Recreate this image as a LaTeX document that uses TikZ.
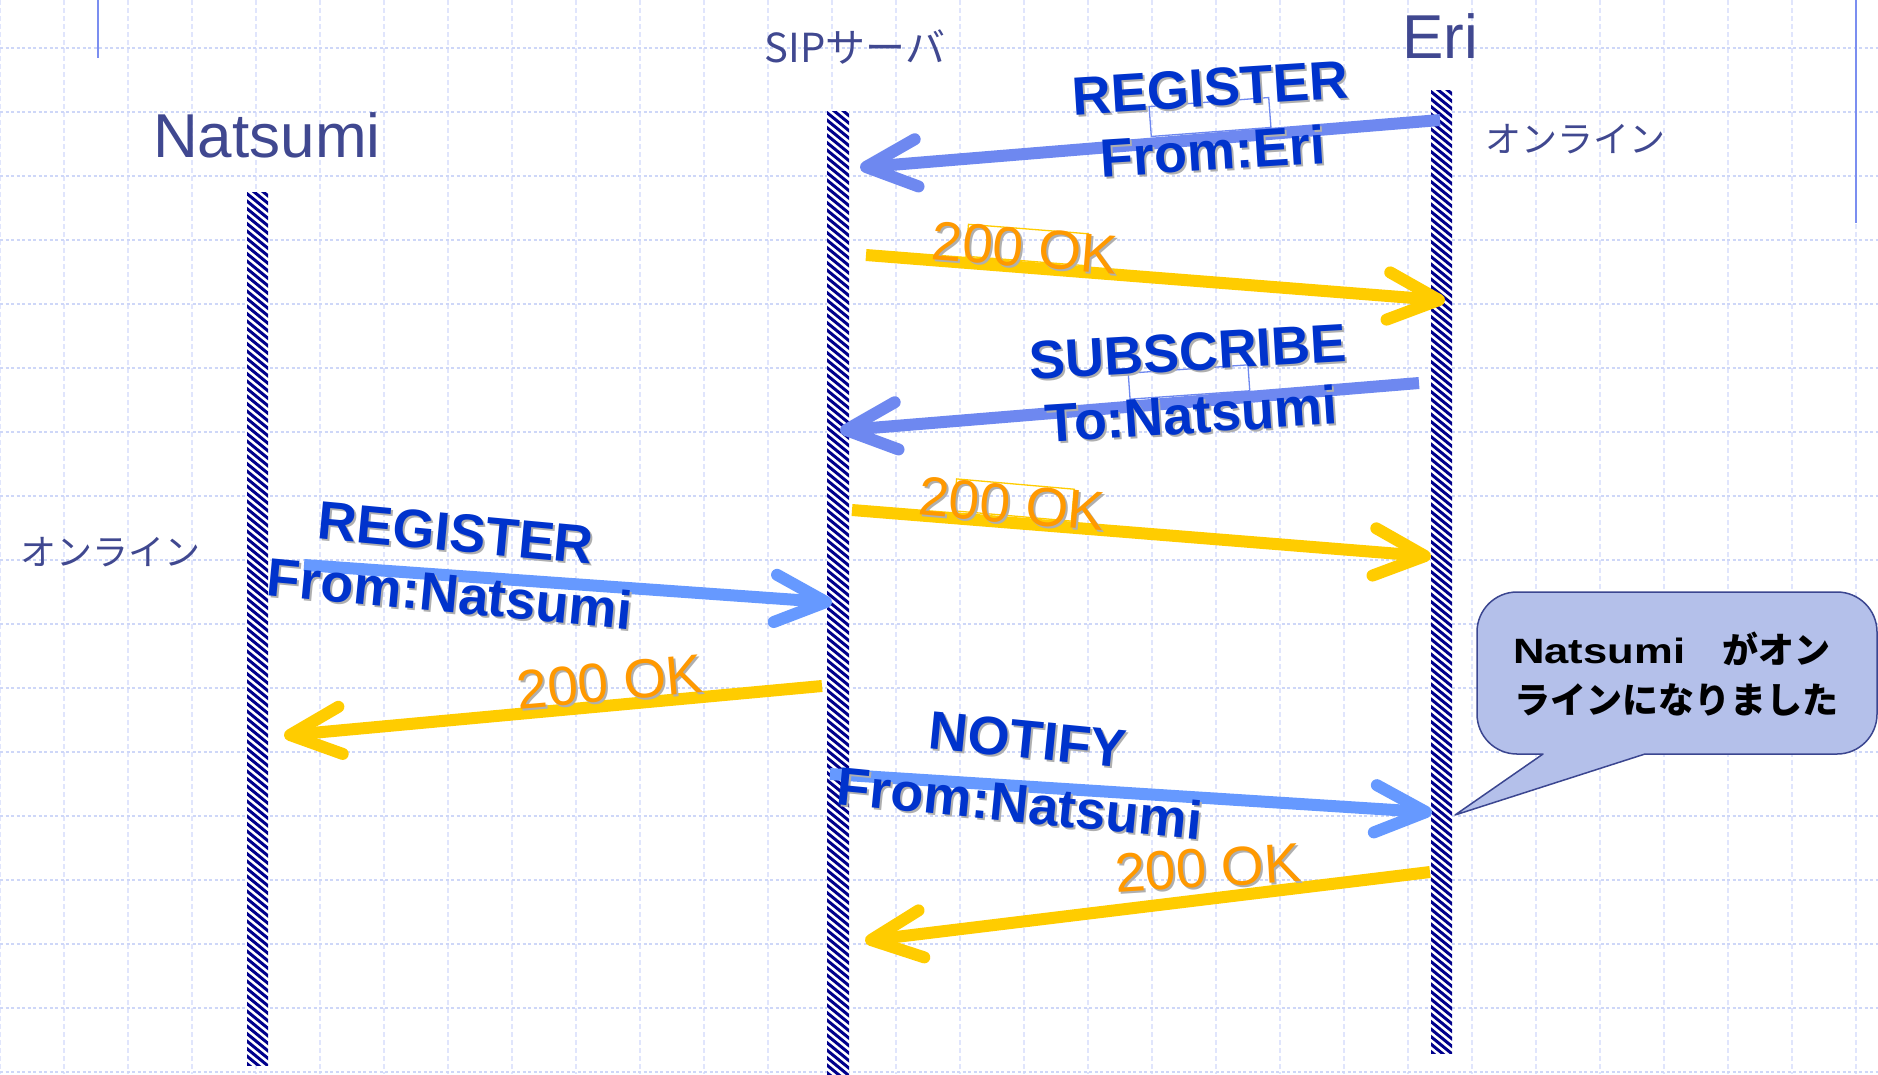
\documentclass[tikz,border=0pt]{standalone}
\usepackage{fontspec}
\setmainfont{Liberation Sans}
\newfontfamily\jpfont{Noto Sans CJK JP}
\usetikzlibrary{calc}

\definecolor{hdr}{RGB}{64,72,144}
\definecolor{lblue}{RGB}{0,51,204}
\definecolor{lorange}{RGB}{255,153,0}
\definecolor{ayellow}{RGB}{255,204,0}
\definecolor{ablueA}{RGB}{110,136,240}
\definecolor{ablueB}{RGB}{102,153,255}
\definecolor{navy}{RGB}{0,0,140}
\definecolor{gridH}{RGB}{206,215,248}
\definecolor{gridV}{RGB}{224,229,252}
\definecolor{callfill}{RGB}{180,192,234}
\definecolor{callline}{RGB}{59,70,144}
\definecolor{shadowgray}{RGB}{175,175,175}
\definecolor{edgeline}{RGB}{123,142,240}

% message arrow: straight shaft plus an open chevron at the target end
\newcommand\sipmsg[2]{%
  \draw[msg,#2] (#1s) -- (#1t);
  \draw[chevron,#2] ($(#1t)!56pt!25:(#1s)$) -- (#1t) -- ($(#1t)!56pt!-25:(#1s)$);}
% label with a soft grey drop shadow
\newcommand\msglabel[5]{%
  \node[#4, text=shadowgray, rotate=#3] (#1s) at ($(#2)+(2,2)$) {#5};
  \node[#4, rotate=#3] (#1) at (#2) {#5};}

\begin{document}
\begin{tikzpicture}[x=1pt,y=-1pt,
  hline/.style={draw=gridH, line width=1.4pt, dash pattern=on 3pt off 2.5pt},
  vline/.style={draw=gridV, line width=1.2pt, dash pattern=on 5pt off 3pt},
  bar/.style={rectangle, fill=white, inner sep=0pt, outer sep=0pt, minimum width=21pt},
  stripe/.style={draw=navy, line width=3pt},
  msg/.style={line width=12pt, line cap=butt},
  chevron/.style={line width=12pt, line cap=round, line join=round},
  head/.style={text=hdr, inner sep=0pt, font=\fontsize{62}{70}\selectfont},
  jphead/.style={text=hdr, inner sep=0pt, font=\jpfont\fontsize{36}{40}\selectfont},
  bluelbl/.style={text=lblue, inner sep=0pt, font=\bfseries\fontsize{54}{60}\selectfont},
  oklbl/.style={text=lorange, inner sep=0pt, font=\fontsize{55}{60}\selectfont},
  tagbox/.style={line width=1.3pt, minimum width=120pt, minimum height=30pt, inner sep=0pt},
  callout/.style={draw=callline, fill=callfill, line width=1.5pt, line join=round},
  calltext/.style={anchor=base west, inner sep=0pt, text=black},
]
\useasboundingbox (0,0) rectangle (1878,1074);
\fill[white] (0,0) rectangle (1878,1074);

% background grid
\foreach \gx in {0,64,...,1856} \draw[vline] (\gx,0) -- (\gx,1074);
\foreach \gy in {48,112,...,1072} \draw[hline] (0,\gy) -- (1878,\gy);

% short rules at the top edge
\draw[edgeline, line width=2pt] (98,0) -- (98,58);
\draw[edgeline, line width=2pt] (1856,0) -- (1856,223);

% lifelines
\node[bar, minimum height=873pt] (natsumi) at (257.5,628.5) {};
\node[bar, minimum width=22pt, minimum height=963pt] (sip) at (838,592.5) {};
\node[bar, minimum height=963pt] (eri) at (1441.5,571.5) {};
\foreach \lname in {natsumi,sip,eri} {
  \begin{scope}
    \clip (\lname.south west) rectangle (\lname.north east);
    \foreach \sy in {-30,-22.5,...,980}
      \draw[stripe] ($(\lname.north west)+(-2,\sy)$) -- ++(26,21.3);
  \end{scope}}

% headings
\node[head, anchor=base west] (nname) at (153,157) {Natsumi};
\node[head, anchor=base] (ename) at (1440,58) {Eri};
\node[jphead, font=\jpfont\fontsize{40}{44}\selectfont, anchor=base] (sname) at (855,62) {SIPサーバ};
\node[jphead, anchor=base] (eon) at (1575,152) {オンライン};
\node[jphead, anchor=base] (non) at (110,565) {オンライン};

% message end points
\coordinate (a1s) at (1440,120); \coordinate (a1t) at (866,167);
\coordinate (a2s) at (866,255);  \coordinate (a2t) at (1439,300);
\coordinate (a3s) at (1419,383); \coordinate (a3t) at (846,430);
\coordinate (a4s) at (852,510);  \coordinate (a4t) at (1425,556);
\coordinate (a5s) at (304,565);  \coordinate (a5t) at (826,602);
\coordinate (a6s) at (822,686);  \coordinate (a6t) at (290,735);
\coordinate (a7s) at (830,774);  \coordinate (a7t) at (1426,812);
\coordinate (a8s) at (1430,872); \coordinate (a8t) at (871,940);

\sipmsg{a1}{ablueA}
\sipmsg{a2}{ayellow}
\sipmsg{a3}{ablueA}
\sipmsg{a4}{ayellow}
\sipmsg{a5}{ablueB}
\sipmsg{a6}{ayellow}
\sipmsg{a7}{ablueB}
\sipmsg{a8}{ayellow}

% thin frames behind some labels
\node[tagbox, draw=ablueA, rotate=4.3] (t1) at (1210,117) {};
\node[tagbox, draw=ayellow, rotate=-4.5, minimum height=32pt] (t2) at (1027,245) {};
\node[tagbox, draw=ablueA, rotate=4, minimum height=26pt] (t3) at (1189,382) {};
\node[tagbox, draw=ayellow, rotate=-5, minimum width=118pt, minimum height=32pt] (t4) at (1014,500) {};

% message labels
\msglabel{l1a}{1210,88}{3.6}{bluelbl}{REGISTER}
\msglabel{l1b}{1213,151}{3.6}{bluelbl}{From:Eri}
\msglabel{l2}{1025,248}{-4.5}{oklbl}{200 OK}
\msglabel{l3a}{1188,352}{3.3}{bluelbl}{SUBSCRIBE}
\msglabel{l3b}{1191,414}{3.7}{bluelbl}{To:Natsumi}
\msglabel{l4}{1012,504}{-5}{oklbl}{200 OK}
\msglabel{l5a}{456,533}{-5.3}{bluelbl}{REGISTER}
\msglabel{l5b}{450,593}{-5.4}{bluelbl}{From:Natsumi}
\msglabel{l6}{610,682}{5}{oklbl}{200 OK}
\msglabel{l7a}{1028,740}{-5.6}{bluelbl}{NOTIFY}
\msglabel{l7b}{1020,803}{-5.6}{bluelbl}{From:Natsumi}
\msglabel{l8}{1208,868}{3.6}{oklbl}{200 OK}

% speech bubble pointing at Eri's lifeline
\draw[callout] (1455,815) -- (1645,754) -- (1837,754)
  arc[start angle=90, end angle=0, radius=40] -- (1877,632)
  arc[start angle=0, end angle=-90, radius=40] -- (1517,592)
  arc[start angle=-90, end angle=-180, radius=40] -- (1477,714)
  arc[start angle=180, end angle=90, radius=40] -- (1543,754) -- cycle;
\node[calltext] (ct1) at (1513,663)
  {\resizebox{172pt}{25.5pt}{\bfseries Natsumi}};
\node[calltext] (ct1j) at (1722,663)
  {\jpfont\bfseries\fontsize{36}{40}\selectfont がオン};
\node[calltext] (ct2) at (1514,713)
  {\jpfont\bfseries\fontsize{36}{40}\selectfont ラインになりました};
\end{tikzpicture}
\end{document}
